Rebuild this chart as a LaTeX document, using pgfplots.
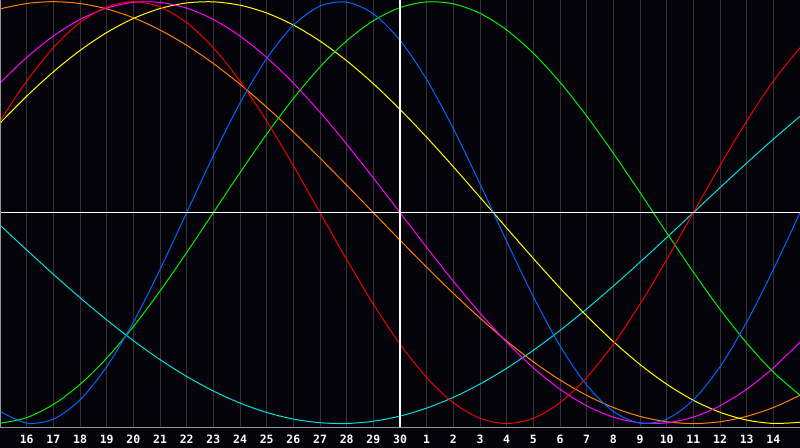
\documentclass[border=0pt]{standalone}
\usepackage{fontspec}
\usepackage{pgfplots}
\pgfplotsset{compat=1.18}
\newfontfamily\tickfont{DejaVu Sans Mono}
\definecolor{bgc}{RGB}{5,3,10}
\definecolor{gridc}{RGB}{52,52,56}
\definecolor{axc}{RGB}{150,150,150}
\definecolor{cblue}{RGB}{0,102,255}
\definecolor{cgreen}{RGB}{0,240,0}
\definecolor{cred}{RGB}{240,0,0}
\definecolor{cmag}{RGB}{255,0,255}
\definecolor{cyel}{RGB}{255,255,0}
\definecolor{corange}{RGB}{255,128,0}
\definecolor{ccyan}{RGB}{0,224,224}
\begin{document}
\begin{tikzpicture}
\fill[bgc] (0,-20bp) rectangle (800bp,428bp);
\begin{axis}[
  scale only axis, width=800bp, height=428bp,
  at={(0,0)}, anchor=south west,
  xmin=0, xmax=30, ymin=-1.021, ymax=1.008,
  axis line style={draw=none},
  xtick={1,...,29},
  xticklabels={16,17,18,19,20,21,22,23,24,25,26,27,28,29,30,1,2,3,4,5,6,7,8,9,10,11,12,13,14},
  ytick=\empty,
  major tick length=0pt,
  xmajorgrids, grid style={gridc, line width=1bp},
  xticklabel style={font=\tickfont\bfseries\fontsize{11.5}{11.5}\selectfont, text=white, anchor=base, inner sep=0pt, yshift=-15bp},
  every axis plot/.append style={line width=1bp, smooth, mark=none},
]
\addplot[ccyan] coordinates {(0,-0.0592)(1,-0.1769)(2,-0.2921)(3,-0.4031)(4,-0.5085)(5,-0.6068)(6,-0.6966)(7,-0.7765)(8,-0.8456)(9,-0.9028)(10,-0.9473)(11,-0.9786)(12,-0.9960)(13,-0.9996)(14,-0.9890)(15,-0.9646)(16,-0.9267)(17,-0.8757)(18,-0.8125)(19,-0.7378)(20,-0.6528)(21,-0.5586)(22,-0.4566)(23,-0.3482)(24,-0.2349)(25,-0.1183)(26,0)(27,0.1183)(28,0.2349)(29,0.3482)(30,0.4566)};
\addplot[corange] coordinates {(0,0.9659)(1,0.9914)(2,1)(3,0.9914)(4,0.9659)(5,0.9239)(6,0.8660)(7,0.7934)(8,0.7071)(9,0.6088)(10,0.5)(11,0.3827)(12,0.2588)(13,0.1305)(14,0)(15,-0.1305)(16,-0.2588)(17,-0.3827)(18,-0.5)(19,-0.6088)(20,-0.7071)(21,-0.7934)(22,-0.8660)(23,-0.9239)(24,-0.9659)(25,-0.9914)(26,-1)(27,-0.9914)(28,-0.9659)(29,-0.9239)(30,-0.8660)};
\addplot[cyel] coordinates {(0,0.4245)(1,0.5518)(2,0.6673)(3,0.7687)(4,0.8536)(5,0.9203)(6,0.9675)(7,0.9940)(8,0.9993)(9,0.9834)(10,0.9464)(11,0.8894)(12,0.8133)(13,0.7199)(14,0.6112)(15,0.4894)(16,0.3572)(17,0.2174)(18,0.0730)(19,-0.0730)(20,-0.2174)(21,-0.3572)(22,-0.4894)(23,-0.6112)(24,-0.7199)(25,-0.8133)(26,-0.8894)(27,-0.9464)(28,-0.9834)(29,-0.9993)(30,-0.9940)};
\addplot[cmag] coordinates {(0,0.6142)(1,0.7357)(2,0.8372)(3,0.9158)(4,0.9694)(5,0.9966)(6,0.9966)(7,0.9694)(8,0.9158)(9,0.8372)(10,0.7357)(11,0.6142)(12,0.4759)(13,0.3247)(14,0.1646)(15,0)(16,-0.1646)(17,-0.3247)(18,-0.4759)(19,-0.6142)(20,-0.7357)(21,-0.8372)(22,-0.9158)(23,-0.9694)(24,-0.9966)(25,-0.9966)(26,-0.9694)(27,-0.9158)(28,-0.8372)(29,-0.7357)(30,-0.6142)};
\addplot[cgreen] coordinates {(0,-0.9989)(1,-0.9718)(2,-0.9096)(3,-0.8146)(4,-0.6901)(5,-0.5406)(6,-0.3717)(7,-0.1893)(8,0)(9,0.1893)(10,0.3717)(11,0.5406)(12,0.6901)(13,0.8146)(14,0.9096)(15,0.9718)(16,0.9989)(17,0.9898)(18,0.9450)(19,0.8660)(20,0.7557)(21,0.6182)(22,0.4582)(23,0.2817)(24,0.0951)(25,-0.0951)(26,-0.2817)(27,-0.4582)(28,-0.6182)(29,-0.7557)(30,-0.8660)};
\addplot[cred] coordinates {(0,0.4339)(1,0.6235)(2,0.7818)(3,0.9010)(4,0.9749)(5,1)(6,0.9749)(7,0.9010)(8,0.7818)(9,0.6235)(10,0.4339)(11,0.2225)(12,0)(13,-0.2225)(14,-0.4339)(15,-0.6235)(16,-0.7818)(17,-0.9010)(18,-0.9749)(19,-1)(20,-0.9749)(21,-0.9010)(22,-0.7818)(23,-0.6235)(24,-0.4339)(25,-0.2225)(26,0)(27,0.2225)(28,0.4339)(29,0.6235)(30,0.7818)};
\addplot[cblue] coordinates {(0,-0.9423)(1,-0.9977)(2,-0.9791)(3,-0.8879)(4,-0.7308)(5,-0.5196)(6,-0.2698)(7,0)(8,0.2698)(9,0.5196)(10,0.7308)(11,0.8879)(12,0.9791)(13,0.9977)(14,0.9423)(15,0.8170)(16,0.6311)(17,0.3984)(18,0.1362)(19,-0.1362)(20,-0.3984)(21,-0.6311)(22,-0.8170)(23,-0.9423)(24,-0.9977)(25,-0.9791)(26,-0.8879)(27,-0.7308)(28,-0.5196)(29,-0.2698)(30,0)};
\draw[white, line width=1.2bp] (axis cs:0,0) -- (axis cs:30,0);
\draw[white, line width=1.2bp] (axis cs:15,-1.021) -- (axis cs:15,1.008);
\draw[axc, line width=1.5bp] (axis cs:0,1.008) -- (axis cs:0,-1.021) -- (axis cs:30,-1.021);
\end{axis}
\pgfresetboundingbox
\path (0,-20bp) rectangle (800bp,428bp);
\end{tikzpicture}
\end{document}
